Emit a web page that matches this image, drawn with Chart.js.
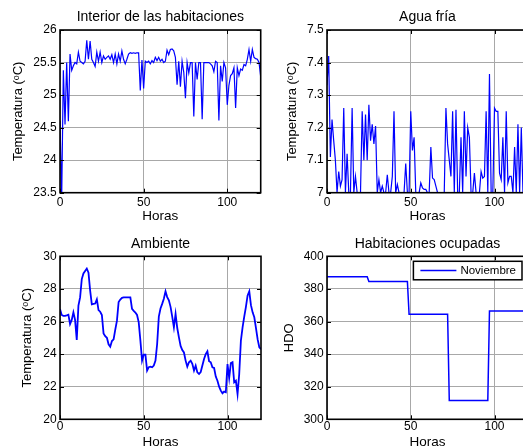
<!DOCTYPE html>
<html>
<head>
<meta charset="utf-8">
<script src="https://cdn.jsdelivr.net/npm/chart.js@4.4.1/dist/chart.umd.min.js"></script>
<style>
  html, body { margin: 0; padding: 0; background: #fff; overflow: hidden; }
  #wrap { position: relative; width: 523px; height: 448px; overflow: hidden; background: #fff; }
  canvas { position: absolute; }
</style>
</head>
<body>
<div id="wrap">
  <canvas id="interior" width="262" height="224" style="left:0;top:0;width:262px;height:224px"></canvas>
  <canvas id="agua" width="268" height="224" style="left:262px;top:0;width:268px;height:224px"></canvas>
  <canvas id="ambiente" width="262" height="224" style="left:0;top:224px;width:262px;height:224px"></canvas>
  <canvas id="hdo" width="268" height="224" style="left:262px;top:224px;width:268px;height:224px"></canvas>
</div>
<script>
// hourly readings, hour 0 .. 120
const hourMax = 120;
const hourTicks = [0, 50, 100];

const interiorTemp = [
  24.6, 23.4, 25.38, 24.55, 25.5, 24.6, 25.63, 25.38, 25.45, 25.5,
  25.48, 25.66, 25.52, 25.5, 25.48, 25.52, 25.84, 25.55, 25.83, 25.55,
  25.5, 25.44, 25.66, 25.52, 25.66, 25.5, 25.6, 25.55, 25.58, 25.6,
  25.55, 25.62, 25.5, 25.63, 25.48, 25.63, 25.52, 25.68, 25.55, 25.48,
  25.55, 25.63, 25.65, 25.64, 25.65, 25.64, 25.65, 25.65, 25.07, 25.54,
  25.1, 25.52, 25.5, 25.52, 25.48, 25.53, 25.5, 25.58, 25.53, 25.58,
  25.52, 25.55, 25.5, 25.52, 25.69, 25.62, 25.7, 25.71, 25.68, 25.58,
  25.16, 25.52, 25.13, 25.52, 25.35, 24.95, 25.5, 25.34, 25.5, 25.5,
  24.67, 25.5, 25.24, 25.5, 25.5, 24.63, 25.5, 25.5, 25.5, 25.5,
  25.48, 25.45, 25.36, 25.52, 25.5, 24.61, 25.45, 25.21, 25.5, 25.42,
  24.85, 25.15, 25.3, 25.33, 25.42, 24.8, 25.42, 25.3, 25.4, 25.38,
  25.47, 25.45, 25.55, 25.7, 25.52, 25.7, 25.58, 25.56, 25.55, 25.5,
  25.28
];

const aguaTemp = [
  7.33, 7.42, 7.11, 7.225, 7.16, 7.1, 7.0, 7.065, 7.02, 7.04,
  7.26, 7.0, 7.12, 7.0, 7.0, 7.26, 7.0, 7.05, 7.0, 7.0,
  7.0, 7.25, 7.1, 7.24, 7.1, 7.27, 7.16, 7.21, 7.15, 7.205,
  7.0, 7.04, 7.0, 7.02, 7.0, 7.0, 7.055, 7.0, 7.0, 7.05,
  7.25, 7.0, 7.025, 7.0, 7.0, 7.0, 7.0, 7.09, 7.0, 7.0,
  7.25, 7.13, 7.17, 7.0, 7.0, 7.0, 7.03, 7.015, 7.01, 7.01,
  7.0, 7.0, 7.14, 7.045, 7.04, 7.02, 7.0, 7.0, 7.0, 7.0,
  7.0, 7.26, 7.15, 7.1, 7.05, 7.25, 7.0, 7.255, 7.0, 7.0,
  7.17, 7.0, 7.25, 7.05, 7.2, 7.17, 7.0, 7.0, 7.06, 7.0,
  7.0, 7.0, 7.065, 7.045, 7.05, 7.25, 7.0, 7.365, 7.0, 7.0,
  7.26, 7.25, 7.25, 7.06, 7.04, 7.17, 7.0, 7.25, 7.03, 7.05,
  7.05, 7.0, 7.14, 7.0, 7.21, 7.0, 7.2, 7.0, 7.1, 7.0,
  7.05
];

const ambienteTemp = [
  26.77, 26.4, 26.35, 26.35, 26.38, 26.42, 25.85, 26.1, 26.56, 26.1,
  24.87, 26.97, 27.48, 28.6, 28.95, 29.1, 29.25, 29.0, 27.9, 27.05,
  27.08, 27.1, 27.36, 26.7, 26.6, 26.4, 25.27, 25.1, 25.0, 24.6,
  24.45, 24.8, 24.9, 25.5, 26.05, 27.2, 27.35, 27.45, 27.48, 27.48,
  27.48, 27.48, 27.48, 26.77, 26.65, 26.55, 26.4, 25.95, 24.83, 23.6,
  23.97, 23.97, 22.99, 23.2, 23.23, 23.19, 23.3, 23.6, 24.62, 26.3,
  26.8, 27.08, 27.4, 27.85, 27.5, 27.3, 26.9, 26.3, 25.64, 26.46,
  25.6, 25.03, 24.5, 24.25, 24.1, 23.6, 23.23, 23.5, 23.6, 23.4,
  22.99, 23.29, 22.88, 22.78, 22.9, 23.3, 23.7, 24.0, 24.17, 23.56,
  23.5, 23.19, 23.15, 22.62, 22.37, 22.0, 21.76, 21.6, 21.7, 21.66,
  23.39, 22.54, 23.45, 23.5, 22.27, 22.37, 21.55, 22.78, 24.83, 25.64,
  26.3, 26.9, 27.6, 27.85, 27.0, 26.56, 26.26, 25.6, 24.9, 24.42,
  24.3
];

// habitaciones ocupadas: hours where the level changes
const hdoHours = [0, 24, 25, 48, 49, 72, 73, 96, 97, 120];
const hdoValues = [387.5, 387.5, 384.5, 384.5, 364.5, 364.5, 311.5, 311.5, 366.5, 366.5];

const interiorTicks = [23.5, 24, 24.5, 25, 25.5, 26];
const aguaTicks = [7, 7.1, 7.2, 7.3, 7.4, 7.5];
const ambienteTicks = [20, 22, 24, 26, 28, 30];
const hdoTicks = [300, 320, 340, 360, 380, 400];

const FONT = '"Liberation Sans", Arial, sans-serif';
Chart.defaults.font.family = FONT;
Chart.defaults.color = '#000';

const gridColor = '#a8a8a8';
const blue = '#0000ff';

function hourly(arr) {
  return arr.map((v, i) => ({x: i, y: v}));
}

// title centred over the plot area, like matlab does
const panelTitle = {
  id: 'panelTitle',
  afterDraw(chart, args, opts) {
    const {ctx, chartArea: a} = chart;
    ctx.save();
    ctx.font = '14px ' + FONT;
    ctx.fillStyle = '#000';
    ctx.textAlign = 'center';
    ctx.textBaseline = 'middle';
    ctx.fillText(opts.text, (a.left + a.right) / 2, opts.y);
    ctx.restore();
  }
};

// black box round the plot with small inward ticks on all four sides
const boxPlugin = {
  id: 'box',
  afterDatasetsDraw(chart) {
    const {ctx, chartArea: a, scales} = chart;
    ctx.save();
    ctx.strokeStyle = '#000';
    ctx.lineWidth = 1;
    ctx.beginPath();
    scales.y.ticks.forEach(t => {
      const y = Math.round(scales.y.getPixelForValue(t.value)) + 0.5;
      ctx.moveTo(a.left, y); ctx.lineTo(a.left + 4, y);
      ctx.moveTo(a.right - 4, y); ctx.lineTo(a.right, y);
    });
    scales.x.ticks.forEach(t => {
      const x = Math.round(scales.x.getPixelForValue(t.value)) + 0.5;
      ctx.moveTo(x, a.bottom); ctx.lineTo(x, a.bottom - 4);
      ctx.moveTo(x, a.top); ctx.lineTo(x, a.top + 4);
    });
    ctx.stroke();
    ctx.lineWidth = 1.6;
    ctx.strokeRect(a.left, a.top, a.right - a.left, a.bottom - a.top);
    ctx.restore();
  }
};

const legendBox = {
  id: 'legendBox',
  afterDraw(chart) {
    const {ctx, chartArea: a} = chart;
    const ds = chart.data.datasets[0];
    ctx.save();
    ctx.font = '11.5px ' + FONT;
    const tw = ctx.measureText(ds.label).width;
    const w = 7 + 36 + 4 + tw + 6;
    const h = 18.5;
    const x = a.right - 6 - w;
    const y = a.top + 5;
    ctx.fillStyle = '#fff';
    ctx.fillRect(x, y, w, h);
    ctx.strokeStyle = '#000';
    ctx.lineWidth = 1.5;
    ctx.strokeRect(x, y, w, h);
    ctx.strokeStyle = ds.borderColor;
    ctx.lineWidth = ds.borderWidth;
    ctx.beginPath();
    ctx.moveTo(x + 7, y + h / 2);
    ctx.lineTo(x + 43, y + h / 2);
    ctx.stroke();
    ctx.fillStyle = '#000';
    ctx.textBaseline = 'middle';
    ctx.fillText(ds.label, x + 47, y + h / 2 + 0.5);
    ctx.restore();
  }
};

function makeChart(id, p) {
  return new Chart(document.getElementById(id), {
    type: 'line',
    data: {
      datasets: [{
        label: p.label || '',
        data: p.data,
        borderColor: blue,
        borderWidth: p.lineWidth,
        pointRadius: 0,
        tension: 0,
        fill: false
      }]
    },
    options: {
      responsive: false,
      animation: false,
      devicePixelRatio: 1,
      layout: {padding: {left: 0, right: p.padRight, top: p.top, bottom: 0}},
      plugins: {
        legend: {display: false},
        tooltip: {enabled: false},
        title: {display: false},
        panelTitle: {text: p.title, y: p.titleY}
      },
      scales: {
        x: {
          type: 'linear',
          min: 0,
          max: hourMax,
          afterFit: s => { s.height = p.xHeight; },
          afterBuildTicks: s => { s.ticks = hourTicks.map(v => ({value: v})); },
          ticks: {font: {size: 12}, padding: p.xTickPad, maxRotation: 0, callback: v => String(v)},
          grid: {color: gridColor, lineWidth: 1, drawTicks: false},
          border: {display: false},
          title: {
            display: true, text: 'Horas', color: '#000',
            font: {size: 13.5, lineHeight: 1},
            padding: {top: 0, bottom: p.horasPad}
          }
        },
        y: {
          min: p.yTicks[0],
          max: p.yTicks[p.yTicks.length - 1],
          afterFit: s => { s.width = p.yWidth; },
          afterBuildTicks: s => { s.ticks = p.yTicks.map(v => ({value: v})); },
          ticks: {font: {size: 12}, padding: 3.3, callback: v => String(v)},
          grid: {color: gridColor, lineWidth: 1, drawTicks: false},
          border: {display: false},
          title: {
            display: true, text: p.yLabel, color: '#000',
            font: {size: 13, lineHeight: 1.2},
            padding: {top: p.yTitlePad, bottom: 0}
          }
        }
      }
    },
    plugins: p.legend ? [panelTitle, boxPlugin, legendBox] : [panelTitle, boxPlugin]
  });
}

makeChart('interior', {
  title: 'Interior de las habitaciones', titleY: 16.8, top: 30,
  data: hourly(interiorTemp), lineWidth: 1.2,
  yTicks: interiorTicks, yLabel: 'Temperatura (ᵒC)',
  yWidth: 60, padRight: 1.3, xHeight: 31.3,
  xTickPad: 3, horasPad: 0.5, yTitlePad: 10.5
});

makeChart('agua', {
  title: 'Agua fría', titleY: 16.8, top: 30,
  data: hourly(aguaTemp), lineWidth: 1.2,
  yTicks: aguaTicks, yLabel: 'Temperatura (ᵒC)',
  yWidth: 65, padRight: 2, xHeight: 31.3,
  xTickPad: 3, horasPad: 0.5, yTitlePad: 23
});

makeChart('ambiente', {
  title: 'Ambiente', titleY: 19.8, top: 32.3,
  data: hourly(ambienteTemp), lineWidth: 1.8,
  yTicks: ambienteTicks, yLabel: 'Temperatura (ᵒC)',
  yWidth: 60, padRight: 1, xHeight: 28.7,
  xTickPad: 0.5, horasPad: -0.7, yTitlePad: 19.7
});

makeChart('hdo', {
  title: 'Habitaciones ocupadas', titleY: 19.8, top: 32.3,
  label: 'Noviembre',
  data: hdoHours.map((h, i) => ({x: h, y: hdoValues[i]})), lineWidth: 1.5,
  yTicks: hdoTicks, yLabel: 'HDO',
  yWidth: 65, padRight: 2, xHeight: 28.7,
  xTickPad: 0.5, horasPad: -0.7, yTitlePad: 19.7,
  legend: true
});
</script>
</body>
</html>
